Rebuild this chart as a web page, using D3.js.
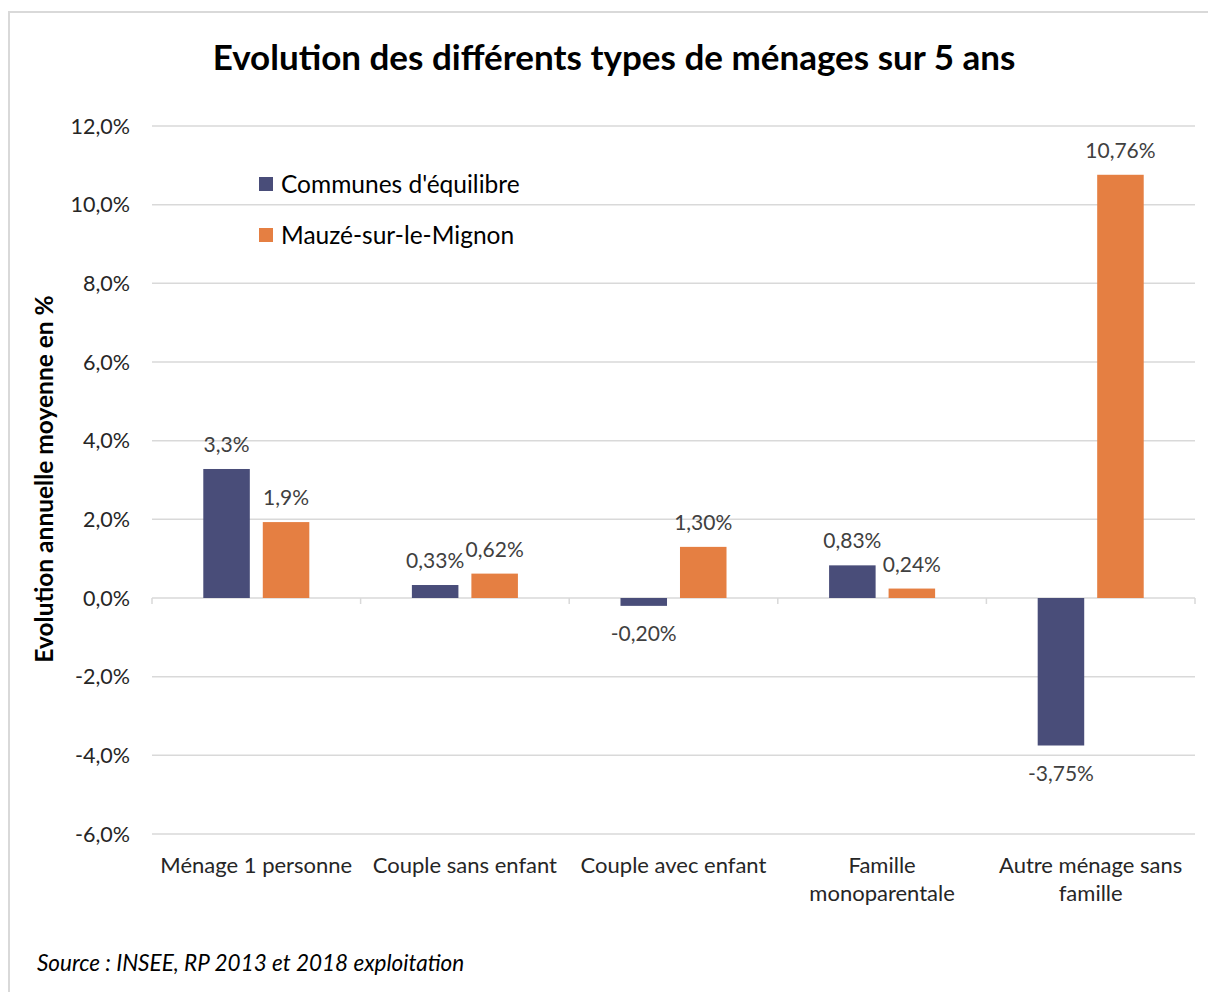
<!DOCTYPE html>
<html>
<head>
<meta charset="utf-8">
<script src="https://cdn.jsdelivr.net/npm/d3@7"></script>
<style>
  body { margin: 0; background: #fff; }
  svg { display: block; font-family: Lato, "Open Sans", sans-serif; }
</style>
</head>
<body>
<svg id="chart" width="1208" height="992"></svg>
<script>
// data
const categories = [
  ["Ménage 1 personne"],
  ["Couple sans enfant"],
  ["Couple avec enfant"],
  ["Famille", "monoparentale"],
  ["Autre ménage sans", "famille"]
];
const seriesNames = ["Communes d'équilibre", "Mauzé-sur-le-Mignon"];
const communesValues = [3.28, 0.33, -0.20, 0.83, -3.75];
const mauzeValues = [1.93, 0.62, 1.30, 0.24, 10.76];
const communesLabels = ["3,3%", "0,33%", "-0,20%", "0,83%", "-3,75%"];
const mauzeLabels = ["1,9%", "0,62%", "1,30%", "0,24%", "10,76%"];
const yTicks = [-6, -4, -2, 0, 2, 4, 6, 8, 10, 12];
const colors = ["#494D79", "#E57F42"];

const svg = d3.select("#chart");

// outer frame
svg.append("rect")
  .attr("x", 9).attr("y", 12)
  .attr("width", 1230).attr("height", 1000)
  .attr("fill", "none").attr("stroke", "#d9d9d9").attr("stroke-width", 2);

const plotLeft = 152, plotRight = 1195, plotTop = 126, plotBottom = 834;

const x0 = d3.scaleBand()
  .domain(d3.range(categories.length))
  .range([plotLeft, plotRight]);

const x1 = d3.scaleBand()
  .domain(d3.range(seriesNames.length))
  .range([0, x0.bandwidth()])
  .paddingInner(0.218)
  .paddingOuter(0.862);

const y = d3.scaleLinear().domain([-6, 12]).range([plotBottom, plotTop]);

const fmt = d => d.toFixed(1).replace(".", ",") + "%";

// gridlines
svg.append("g")
  .selectAll("line")
  .data(yTicks)
  .join("line")
  .attr("x1", plotLeft).attr("x2", plotRight)
  .attr("y1", d => y(d)).attr("y2", d => y(d))
  .attr("stroke", "#d9d9d9").attr("stroke-width", 1.5);

// y axis labels
svg.append("g")
  .selectAll("text")
  .data(yTicks)
  .join("text")
  .attr("x", 130)
  .attr("y", d => y(d))
  .attr("dy", "0.35em")
  .attr("text-anchor", "end")
  .attr("font-size", 21.5)
  .attr("fill", "#262626")
  .text(fmt);

// category tick marks on zero line
const bounds = d3.range(categories.length + 1).map(i => plotLeft + i * x0.step());
svg.append("g")
  .selectAll("line")
  .data(bounds)
  .join("line")
  .attr("x1", d => d).attr("x2", d => d)
  .attr("y1", y(0)).attr("y2", y(0) + 6)
  .attr("stroke", "#d9d9d9").attr("stroke-width", 1.5);

// bars
const series = [communesValues, mauzeValues];
const labels = [communesLabels, mauzeLabels];

series.forEach((vals, s) => {
  const g = svg.append("g");
  g.selectAll("rect")
    .data(vals)
    .join("rect")
    .attr("x", (d, i) => x0(i) + x1(s))
    .attr("width", x1.bandwidth())
    .attr("y", d => y(Math.max(0, d)))
    .attr("height", d => Math.abs(y(d) - y(0)))
    .attr("fill", colors[s]);

  g.selectAll("text")
    .data(vals)
    .join("text")
    .attr("x", (d, i) => x0(i) + x1(s) + x1.bandwidth() / 2)
    .attr("y", d => d >= 0 ? y(d) - 17 : y(d) + 35)
    .attr("text-anchor", "middle")
    .attr("font-size", 21)
    .attr("fill", "#404040")
    .text((d, i) => labels[s][i]);
});

// category labels
svg.append("g")
  .selectAll("text")
  .data(categories)
  .join("text")
  .attr("x", (d, i) => x0(i) + x0.bandwidth() / 2)
  .attr("y", 873)
  .attr("text-anchor", "middle")
  .attr("font-size", 22)
  .attr("fill", "#262626")
  .each(function(d) {
    d3.select(this).selectAll("tspan")
      .data(d)
      .join("tspan")
      .attr("x", d3.select(this).attr("x"))
      .attr("dy", (t, j) => j === 0 ? 0 : 28)
      .text(t => t);
  });

// legend
const legend = svg.append("g");
seriesNames.forEach((name, i) => {
  legend.append("rect")
    .attr("x", 259).attr("y", 177 + i * 51)
    .attr("width", 14).attr("height", 14)
    .attr("fill", colors[i]);
  legend.append("text")
    .attr("x", 281).attr("y", 193 + i * 51)
    .attr("font-size", 24.5)
    .attr("fill", "#000")
    .text(name);
});

// title
svg.append("text")
  .attr("x", 614).attr("y", 70)
  .attr("text-anchor", "middle")
  .attr("font-size", 35)
  .attr("font-weight", "bold")
  .attr("fill", "#000")
  .text("Evolution des différents types de ménages sur 5 ans");

// y axis title
svg.append("text")
  .attr("transform", "translate(53,479) rotate(-90)")
  .attr("text-anchor", "middle")
  .attr("font-size", 24.5)
  .attr("font-weight", "bold")
  .attr("fill", "#000")
  .text("Evolution annuelle moyenne en %");

// source
svg.append("text")
  .attr("x", 37).attr("y", 971)
  .attr("font-size", 22.5)
  .attr("font-style", "italic")
  .attr("fill", "#000")
  .text("Source : INSEE, RP 2013 et 2018 exploitation");
</script>
</body>
</html>
